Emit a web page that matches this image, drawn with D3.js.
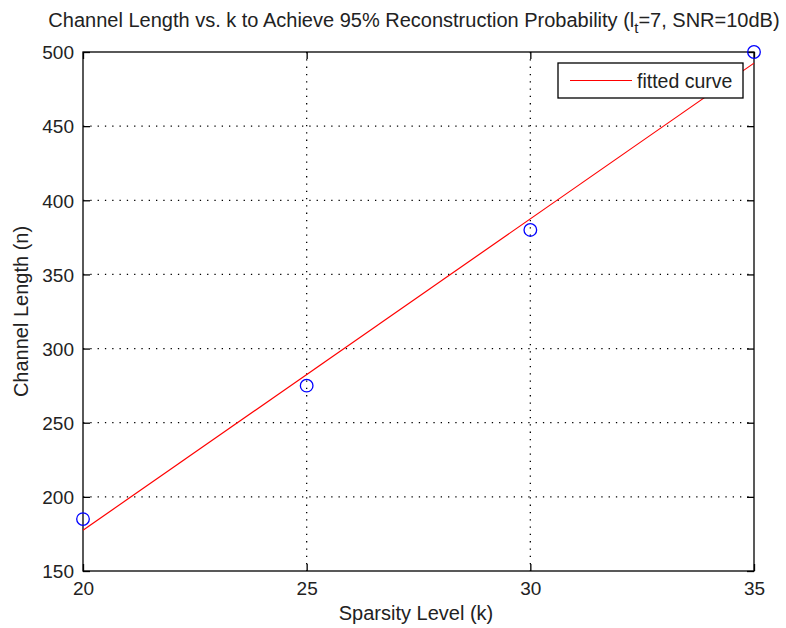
<!DOCTYPE html>
<html>
<head>
<meta charset="utf-8">
<script src="https://cdn.jsdelivr.net/npm/d3@7"></script>
<style>
  body { margin: 0; background: #fff; }
  svg text { font-family: "Liberation Sans", Arial, sans-serif; fill: #222; }
</style>
</head>
<body>
<div id="chart"></div>
<script>
// size of the page
var chart_width  = 786;
var chart_height = 628;

// data
var sparsity  = [20, 25, 30, 35];
var chanLen   = [185, 275, 380, 500];
var fitK      = [20, 35];
var fitN      = [177.5, 492.5];
var xTicks    = [20, 25, 30, 35];
var yTicks    = [150, 200, 250, 300, 350, 400, 450, 500];
var legendTxt = ["fitted curve"];

var margin = {left: 83, right: 32, top: 52, bottom: 57};
var plotW = chart_width - margin.left - margin.right;
var plotH = chart_height - margin.top - margin.bottom;

var svg = d3.select("#chart")
    .append("svg")
    .attr("width", chart_width)
    .attr("height", chart_height);

var x = d3.scaleLinear().domain([20, 35]).range([0, plotW]);
var y = d3.scaleLinear().domain([150, 500]).range([plotH, 0]);

var g = svg.append("g")
    .attr("transform", "translate(" + margin.left + "," + margin.top + ")");

// dotted grid
g.selectAll(".gx")
    .data(xTicks.slice(1, -1))
    .enter()
    .append("line")
    .attr("x1", function(d){ return x(d); })
    .attr("x2", function(d){ return x(d); })
    .attr("y1", 0)
    .attr("y2", plotH)
    .attr("stroke", "#000")
    .attr("stroke-width", 1.3)
    .attr("stroke-dasharray", "1.3,6");

g.selectAll(".gy")
    .data(yTicks.slice(1, -1))
    .enter()
    .append("line")
    .attr("y1", function(d){ return y(d); })
    .attr("y2", function(d){ return y(d); })
    .attr("x1", 0)
    .attr("x2", plotW)
    .attr("stroke", "#000")
    .attr("stroke-width", 1.3)
    .attr("stroke-dasharray", "1.3,6");

// axes, ticks pointing in, on all four sides
var bottomAxis = d3.axisBottom(x).tickValues(xTicks).tickSizeInner(-7).tickSizeOuter(0);
var leftAxis   = d3.axisLeft(y).tickValues(yTicks).tickSizeInner(-7).tickSizeOuter(0).tickPadding(9);
var topAxis    = d3.axisTop(x).tickValues(xTicks).tickSizeInner(-7).tickSizeOuter(0).tickFormat("");
var rightAxis  = d3.axisRight(y).tickValues(yTicks).tickSizeInner(-7).tickSizeOuter(0).tickFormat("");

var ax = g.append("g").attr("transform", "translate(0," + plotH + ")").call(bottomAxis);
var ay = g.append("g").call(leftAxis);
var at = g.append("g").call(topAxis);
var ar = g.append("g").attr("transform", "translate(" + plotW + ",0)").call(rightAxis);

[ax, ay, at, ar].forEach(function(a){
    a.select(".domain").remove();
    a.selectAll("line").attr("stroke", "#000").attr("stroke-width", 1.3);
    a.selectAll("text").style("font-size", "19px").attr("fill", "#222");
});
ax.selectAll("text").attr("y", 24).attr("dy", 0);
ay.selectAll("text").attr("dy", "0.36em");

g.append("rect")
    .attr("width", plotW)
    .attr("height", plotH)
    .attr("fill", "none")
    .attr("stroke", "#000")
    .attr("stroke-width", 1.3);

// fitted line
var line = d3.line()
    .x(function(d){ return x(d[0]); })
    .y(function(d){ return y(d[1]); });

g.append("path")
    .datum(d3.zip(fitK, fitN))
    .attr("d", line)
    .attr("fill", "none")
    .attr("stroke", "#ff0000")
    .attr("stroke-width", 1.2);

// data markers
g.selectAll(".pt")
    .data(d3.zip(sparsity, chanLen))
    .enter()
    .append("circle")
    .attr("cx", function(d){ return x(d[0]); })
    .attr("cy", function(d){ return y(d[1]); })
    .attr("r", 6.3)
    .attr("fill", "none")
    .attr("stroke", "#0000ff")
    .attr("stroke-width", 1.3);

// legend
var lg = svg.append("g").attr("transform", "translate(558,63)");
lg.append("rect")
    .attr("width", 185)
    .attr("height", 35)
    .attr("fill", "#fff")
    .attr("stroke", "#000")
    .attr("stroke-width", 1.3);
lg.append("line")
    .attr("x1", 12).attr("x2", 74)
    .attr("y1", 17.5).attr("y2", 17.5)
    .attr("stroke", "#ff0000")
    .attr("stroke-width", 1.2);
lg.append("text")
    .attr("x", 79)
    .attr("y", 25)
    .style("font-size", "19.5px")
    .text(legendTxt[0]);

// title
var title = svg.append("text")
    .attr("x", 414)
    .attr("y", 27)
    .attr("text-anchor", "middle")
    .style("font-size", "20px");
title.append("tspan").text("Channel Length vs. k to Achieve 95% Reconstruction Probability (l");
title.append("tspan").attr("dy", 6).style("font-size", "15px").text("t");
title.append("tspan").attr("dy", -6).text("=7, SNR=10dB)");

// axis labels
svg.append("text")
    .attr("x", 416)
    .attr("y", 620)
    .attr("text-anchor", "middle")
    .style("font-size", "20px")
    .text("Sparsity Level (k)");

svg.append("text")
    .attr("transform", "translate(28," + (margin.top + plotH / 2) + ") rotate(-90)")
    .attr("text-anchor", "middle")
    .style("font-size", "20px")
    .text("Channel Length (n)");
</script>
</body>
</html>
